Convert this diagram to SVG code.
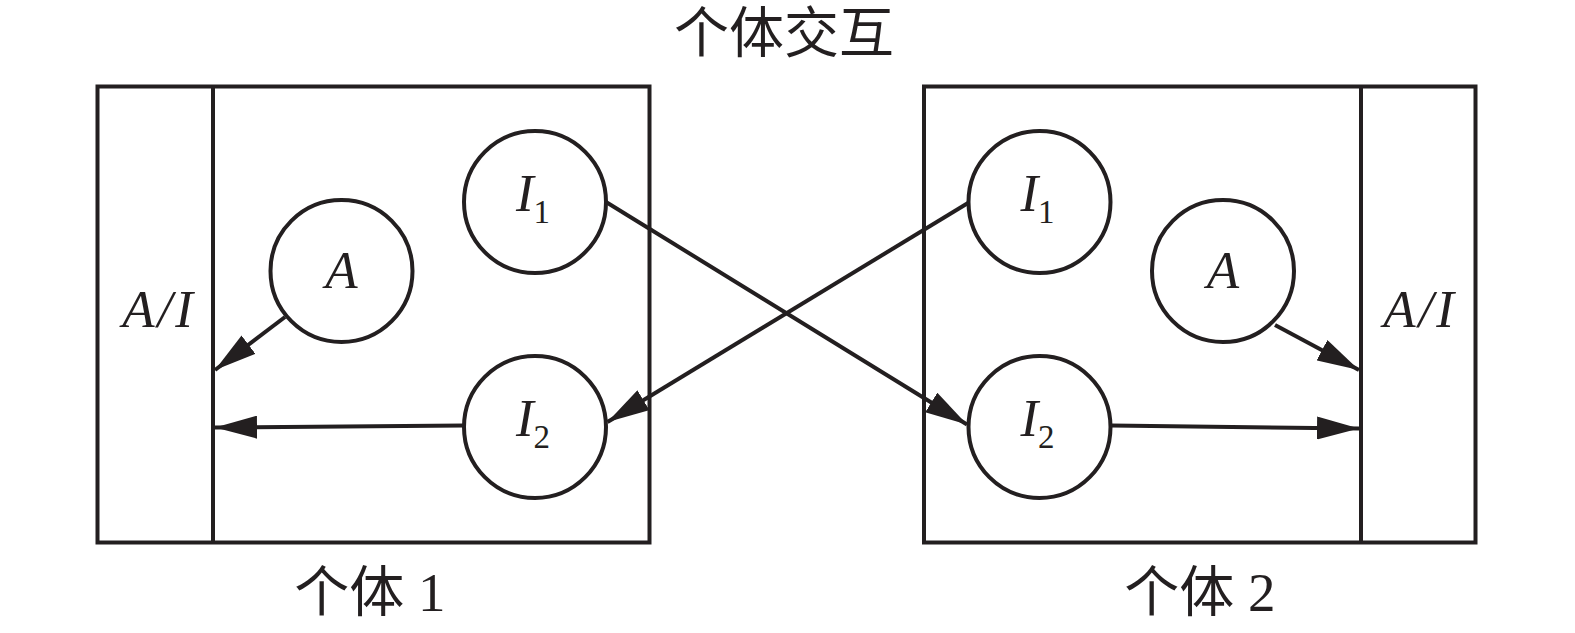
<svg xmlns="http://www.w3.org/2000/svg" width="1575" height="633" viewBox="0 0 1575 633">
<style>
.box{fill:none;stroke:#231f20;stroke-width:4}
.node{fill:#fff;stroke:#231f20;stroke-width:4}
.edge{stroke:#231f20;stroke-width:4;fill:none}
.cjk{font-family:"Liberation Serif","Noto Sans CJK SC",serif;font-size:55px;fill:#231f20}
.math{font-family:"Liberation Serif",serif;font-style:italic;font-size:53px;fill:#231f20}
.ai{letter-spacing:3px}
.sub{font-family:"Liberation Serif",serif;font-style:normal;font-size:33px}
</style>
<defs>
<marker id="arr" viewBox="0 0 42 23" refX="42" refY="11.5" markerWidth="42" markerHeight="23" markerUnits="userSpaceOnUse" orient="auto">
<path d="M0,0 L42,11.5 L0,23 Z" fill="#231f20"/>
</marker>
</defs>
<rect width="1575" height="633" fill="#fff"/>
<g id="title"><text class="cjk" x="784" y="52" text-anchor="middle">个体交互</text></g>
<g id="individual1">
<rect class="box" x="97.5" y="86.5" width="552" height="456"/>
<line class="box" x1="213" y1="86.5" x2="213" y2="542.5"/>
<text class="math ai" x="159" y="327" text-anchor="middle">A/I</text>
<text class="cjk" x="370" y="611" text-anchor="middle">个体 1</text>
</g>
<g id="individual2">
<rect class="box" x="924" y="86.5" width="551.5" height="456"/>
<line class="box" x1="1361" y1="86.5" x2="1361" y2="542.5"/>
<text class="math ai" x="1420" y="327" text-anchor="middle">A/I</text>
<text class="cjk" x="1200" y="611" text-anchor="middle">个体 2</text>
</g>
<g id="n1A"><circle class="node" cx="341.5" cy="271" r="71"/><text class="math" x="341.5" y="288" text-anchor="middle">A</text></g>
<g id="n1I1"><circle class="node" cx="535" cy="202" r="71"/><text class="math" x="533" y="211" text-anchor="middle">I<tspan class="sub" dy="12">1</tspan></text></g>
<g id="n1I2"><circle class="node" cx="535" cy="427" r="71"/><text class="math" x="533" y="436" text-anchor="middle">I<tspan class="sub" dy="12">2</tspan></text></g>
<g id="n2I1"><circle class="node" cx="1039.5" cy="202" r="71"/><text class="math" x="1037.5" y="211" text-anchor="middle">I<tspan class="sub" dy="12">1</tspan></text></g>
<g id="n2A"><circle class="node" cx="1223" cy="271" r="71"/><text class="math" x="1223" y="288" text-anchor="middle">A</text></g>
<g id="n2I2"><circle class="node" cx="1039.5" cy="427" r="71"/><text class="math" x="1037.5" y="436" text-anchor="middle">I<tspan class="sub" dy="12">2</tspan></text></g>
<g id="connectors">
<line class="edge" x1="285" y1="317" x2="215" y2="370" marker-end="url(#arr)"/>
<line class="edge" x1="464" y1="425.5" x2="215" y2="427.5" marker-end="url(#arr)"/>
<line class="edge" x1="968" y1="203" x2="607.5" y2="422" marker-end="url(#arr)"/>
<line class="edge" x1="606" y1="202" x2="967" y2="424.5" marker-end="url(#arr)"/>
<line class="edge" x1="1275" y1="325" x2="1359" y2="370" marker-end="url(#arr)"/>
<line class="edge" x1="1111" y1="425.5" x2="1359" y2="428.5" marker-end="url(#arr)"/>
</g>
</svg>
